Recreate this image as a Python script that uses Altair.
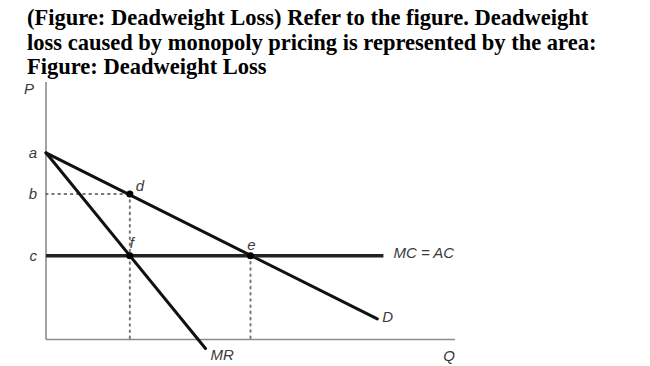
import altair as alt
import pandas as pd

# ---- data (Q and P in arbitrary units, 0..100) ----
title_lines = [
    "(Figure: Deadweight Loss) Refer to the figure. Deadweight",
    "loss caused by monopoly pricing is represented by the area:",
    "Figure: Deadweight Loss",
]

# solid curves as segments: name, q1, p1, q2, p2
curve_names = ["D", "MR", "MC = AC"]
curve_q1 = [0, 0, 0]
curve_p1 = [72.5, 72.5, 32.5]
curve_q2 = [81, 39, 82.5]
curve_p2 = [8, -3.5, 32.5]

# dotted guide segments
guide_q1 = [0, 20.5, 50]
guide_p1 = [56.5, 56.5, 32.5]
guide_q2 = [20.5, 20.5, 50]
guide_p2 = [56.5, 0, 0]

# axes
axis_q1 = [0, 0]
axis_p1 = [0, 0]
axis_q2 = [0, 100]
axis_p2 = [100, 0]

# marked points d, f, e
point_names = ["d", "f", "e"]
point_q = [20.5, 20.5, 50]
point_p = [56.5, 32.5, 32.5]

# price labels on the vertical axis
price_names = ["a", "b", "c"]
price_p = [72.5, 56.5, 32.5]

curves = pd.DataFrame({"name": curve_names, "q1": curve_q1, "p1": curve_p1,
                       "q2": curve_q2, "p2": curve_p2})
guides = pd.DataFrame({"q1": guide_q1, "p1": guide_p1, "q2": guide_q2, "p2": guide_p2})
axes = pd.DataFrame({"q1": axis_q1, "p1": axis_p1, "q2": axis_q2, "p2": axis_p2})
points = pd.DataFrame({"name": point_names, "q": point_q, "p": point_p})
prices = pd.DataFrame({"name": price_names, "q": [0] * len(price_names), "p": price_p})

xs = alt.Scale(domain=[0, 100], nice=False, zero=False)
ys = alt.Scale(domain=[0, 100], nice=False, zero=False)

X = lambda f: alt.X(f, type="quantitative", scale=xs, axis=None)
Y = lambda f: alt.Y(f, type="quantitative", scale=ys, axis=None)

label_font = "Liberation Sans"
label_color = "#3a3a3a"

axis_layer = alt.Chart(axes).mark_rule(color="#8c8c8c", strokeWidth=1.6).encode(
    x=X("q1"), y=Y("p1"), x2="q2", y2="p2")

guide_layer = alt.Chart(guides).mark_rule(
    color="#777777", strokeWidth=2, strokeDash=[1.6, 4.6], strokeCap="round").encode(
    x=X("q1"), y=Y("p1"), x2="q2", y2="p2")

demand_layer = alt.Chart(curves).transform_filter(alt.datum.name != "MC = AC").mark_rule(
    color="#111111", strokeWidth=3, strokeCap="round").encode(
    x=X("q1"), y=Y("p1"), x2="q2", y2="p2")

mc_layer = alt.Chart(curves).transform_filter(alt.datum.name == "MC = AC").mark_rule(
    color="#222222", strokeWidth=3.6).encode(
    x=X("q1"), y=Y("p1"), x2="q2", y2="p2")

point_layer = alt.Chart(points).mark_circle(color="#000000", size=50, opacity=1).encode(
    x=X("q"), y=Y("p"))

def lbl(df, **kw):
    base = dict(font=label_font, fontStyle="italic", fontSize=15, color=label_color)
    base.update(kw)
    return alt.Chart(df).mark_text(**base)

price_labels = lbl(prices, align="right", baseline="middle", dx=-9).encode(
    x=X("q"), y=Y("p"), text="name")

d_label = lbl(points[points.name == "d"], align="center", baseline="middle", dx=10, dy=-8).encode(
    x=X("q"), y=Y("p"), text="name")
f_label = lbl(points[points.name == "f"], align="center", baseline="middle", dx=2, dy=-13).encode(
    x=X("q"), y=Y("p"), text="name")
e_label = lbl(points[points.name == "e"], align="center", baseline="middle", dx=1, dy=-11).encode(
    x=X("q"), y=Y("p"), text="name")

mc_label = lbl(curves[curves.name == "MC = AC"], align="left", baseline="middle", dx=10, dy=-3).encode(
    x=X("q2"), y=Y("p2"), text="name")
d_curve_label = lbl(curves[curves.name == "D"], align="left", baseline="middle", dx=5, dy=-2).encode(
    x=X("q2"), y=Y("p2"), text="name")
mr_label = lbl(curves[curves.name == "MR"], align="left", baseline="middle", dx=5, dy=6).encode(
    x=X("q2"), y=Y("p2"), text="name")

axis_names = pd.DataFrame({"name": ["P", "Q"], "q": [0, 100], "p": [100, 0]})
p_label = lbl(axis_names[axis_names.name == "P"], align="center", baseline="middle", dx=-17, dy=7).encode(
    x=X("q"), y=Y("p"), text="name")
q_label = lbl(axis_names[axis_names.name == "Q"], align="right", baseline="middle", dx=0, dy=16).encode(
    x=X("q"), y=Y("p"), text="name")

chart = alt.layer(
    axis_layer, guide_layer, demand_layer, mc_layer, point_layer,
    price_labels, d_label, f_label, e_label, mc_label, d_curve_label, mr_label,
    p_label, q_label,
).properties(
    width=409,
    height=257.5,
    background="white",
    autosize=alt.AutoSizeParams(type="none"),
    padding={"left": 38, "top": 74, "right": 185, "bottom": 25},
    title=alt.TitleParams(
        text=title_lines,
        anchor="start",
        frame="group",
        font="Liberation Serif",
        fontSize=22.5,
        fontWeight="bold",
        color="#000000",
        lineHeight=24.5,
        baseline="bottom",
        offset=4,
        dx=-19,
        dy=24.5,
    ),
).configure_view(stroke="transparent", strokeWidth=0)

chart.save("out.html", embed_options={"renderer": "svg", "actions": False})
